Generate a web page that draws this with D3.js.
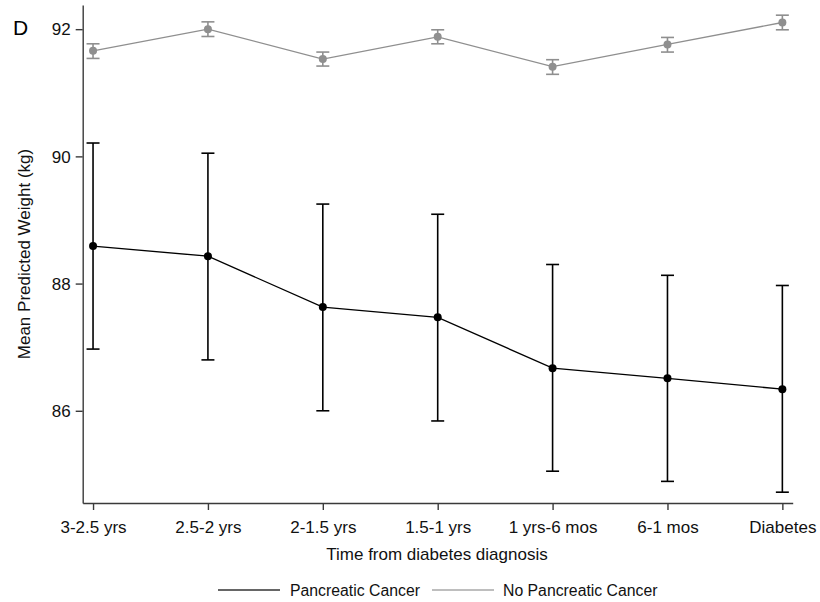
<!DOCTYPE html>
<html>
<head>
<meta charset="utf-8">
<script src="https://cdn.jsdelivr.net/npm/d3@7"></script>
<style>
  html, body { margin: 0; padding: 0; background: #fff; }
  svg { display: block; font-family: "Liberation Sans", Arial, Helvetica, sans-serif; }
</style>
</head>
<body>
<svg id="chart" width="820" height="602"></svg>
<script>
const categories = ["3-2.5 yrs", "2.5-2 yrs", "2-1.5 yrs", "1.5-1 yrs", "1 yrs-6 mos", "6-1 mos", "Diabetes"];
const cancerMean  = [88.59, 88.43, 87.63, 87.47, 86.67, 86.51, 86.34];
const cancerLow   = [86.97, 86.80, 86.00, 85.84, 85.05, 84.89, 84.72];
const cancerHigh  = [90.21, 90.05, 89.25, 89.09, 88.30, 88.13, 87.97];
const noCancerMean = [91.66, 92.00, 91.53, 91.88, 91.41, 91.76, 92.105];
const noCancerLow  = [91.54, 91.885, 91.42, 91.77, 91.29, 91.64, 91.99];
const noCancerHigh = [91.77, 92.115, 91.64, 91.99, 91.52, 91.87, 92.22];
const yTicks = [86, 88, 90, 92];
const seriesNames = ["Pancreatic Cancer", "No Pancreatic Cancer"];

const svg = d3.select("#chart");
const axisColor = "#3a3a3a";
const fs = "17px";

const x = d3.scaleLinear().domain([-0.09, 6.09]).range([82.7, 792.7]);
const y = d3.scaleLinear().domain([84.55, 92.38]).range([503, 5]);

// Y axis
const yAxis = svg.append("g")
  .attr("transform", "translate(82.7,0)")
  .call(d3.axisLeft(y).tickValues(yTicks).tickSize(7).tickSizeOuter(0).tickPadding(5).tickFormat(d3.format("d")));
yAxis.select(".domain").attr("stroke", axisColor).attr("stroke-width", 1.4);
yAxis.selectAll(".tick line").attr("stroke", axisColor).attr("stroke-width", 1.4);
yAxis.selectAll(".tick text").attr("fill", "#111").style("font-size", fs).attr("dy", "0.34em");

// X axis
const xAxis = svg.append("g")
  .attr("transform", "translate(0,503)")
  .call(d3.axisBottom(x).tickValues(d3.range(categories.length)).tickSize(7).tickSizeOuter(0).tickPadding(11).tickFormat(i => categories[i]));
xAxis.select(".domain").attr("stroke", axisColor).attr("stroke-width", 1.4);
xAxis.selectAll(".tick line").attr("stroke", axisColor).attr("stroke-width", 1.4);
xAxis.selectAll(".tick text").attr("fill", "#111").style("font-size", fs);

// Titles
svg.append("text")
  .attr("transform", "translate(30,254) rotate(-90)")
  .attr("text-anchor", "middle")
  .style("font-size", fs).attr("fill", "#111")
  .text("Mean Predicted Weight (kg)");

svg.append("text")
  .attr("x", 437).attr("y", 560)
  .attr("text-anchor", "middle")
  .style("font-size", fs).attr("fill", "#111")
  .text("Time from diabetes diagnosis");

svg.append("text")
  .attr("x", 13).attr("y", 35)
  .style("font-size", "21px").attr("fill", "#000")
  .text("D");

function drawSeries(mean, low, high, color, r, capW, lw) {
  const g = svg.append("g");
  const idx = d3.range(mean.length);
  g.append("path")
    .datum(idx)
    .attr("fill", "none")
    .attr("stroke", color)
    .attr("stroke-width", lw)
    .attr("d", d3.line().x(i => x(i)).y(i => y(mean[i])));
  const eb = g.selectAll(".eb").data(idx).enter().append("g");
  eb.append("line")
    .attr("x1", i => x(i)).attr("x2", i => x(i))
    .attr("y1", i => y(low[i])).attr("y2", i => y(high[i]))
    .attr("stroke", color).attr("stroke-width", lw + 0.3);
  eb.append("line")
    .attr("x1", i => x(i) - capW / 2).attr("x2", i => x(i) + capW / 2)
    .attr("y1", i => y(low[i])).attr("y2", i => y(low[i]))
    .attr("stroke", color).attr("stroke-width", lw + 0.3);
  eb.append("line")
    .attr("x1", i => x(i) - capW / 2).attr("x2", i => x(i) + capW / 2)
    .attr("y1", i => y(high[i])).attr("y2", i => y(high[i]))
    .attr("stroke", color).attr("stroke-width", lw + 0.3);
  g.selectAll("circle").data(idx).enter().append("circle")
    .attr("cx", i => x(i)).attr("cy", i => y(mean[i]))
    .attr("r", r).attr("fill", color);
}

drawSeries(noCancerMean, noCancerLow, noCancerHigh, "#8f8f8f", 4, 13, 1.3);
drawSeries(cancerMean, cancerLow, cancerHigh, "#000000", 4, 13, 1.3);

// Legend
const legend = svg.append("g");
const legendItems = [
  { name: seriesNames[0], color: "#333333", x1: 218, x2: 280, tx: 290 },
  { name: seriesNames[1], color: "#a8a8a8", x1: 432, x2: 494, tx: 503 }
];
legendItems.forEach(d => {
  legend.append("line")
    .attr("x1", d.x1).attr("x2", d.x2).attr("y1", 590).attr("y2", 590)
    .attr("stroke", d.color).attr("stroke-width", 1.4);
  legend.append("text")
    .attr("x", d.tx).attr("y", 596)
    .style("font-size", "15.8px").attr("fill", "#111")
    .text(d.name);
});
</script>
</body>
</html>
